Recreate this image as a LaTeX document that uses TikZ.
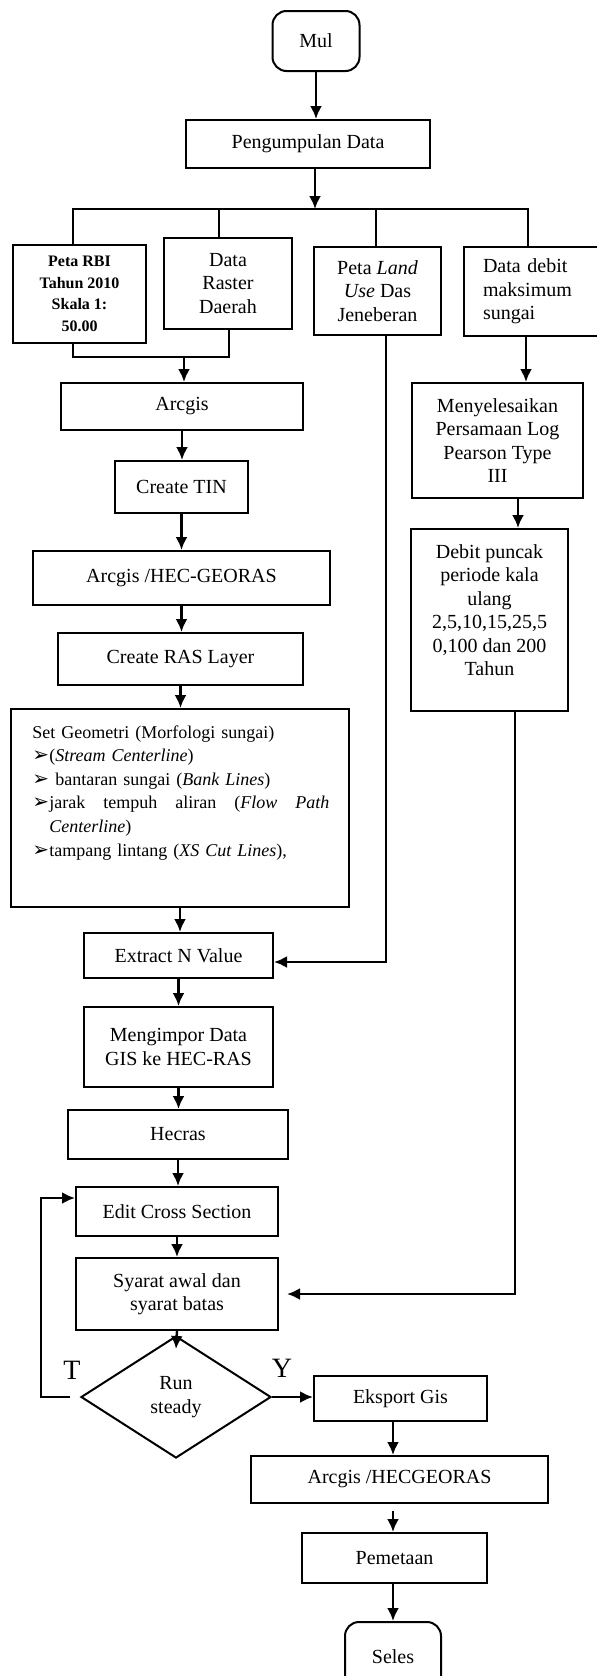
\documentclass[tikz,border=0pt]{standalone}
\usepackage{fontspec}
\setmainfont{Liberation Serif}
\newfontfamily\symfont{DejaVu Sans}
\usepackage{tikz}
\usetikzlibrary{shapes,arrows.meta}
\tikzstyle{block} = [rectangle, draw, line width=1pt, align=center, inner sep=2pt]
\tikzstyle{terminal} = [rectangle, draw, line width=1pt, align=center, rounded corners=7pt]
\tikzstyle{decision} = [diamond, draw, line width=1pt, align=center, inner sep=0pt]
\tikzstyle{line} = [draw, line width=1pt]
\tikzstyle{arrow} = [draw, line width=1.2pt, -{Latex[length=6.5pt, width=6pt]}]
\newcommand{\bul}{\makebox[8.5pt][l]{\fontsize{10}{10}\symfont ➢}}

\begin{document}
\begin{tikzpicture}[x=0.5pt, y=-0.5pt, font=\fontsize{10}{11.7}\selectfont]
\useasboundingbox (0,0) rectangle (596,1676);

%% start and data collection
\node[terminal, minimum width=43.5pt, minimum height=30pt] at (316, 41) (mul) {Mul};
\node[block, minimum width=122pt, minimum height=24pt] at (308, 144) (kumpul) {Pengumpulan Data};
\path[arrow] (mul.south) -- (mul.south |- kumpul.north);

\coordinate (bus) at (315, 209);
\path[arrow] (kumpul.south -| bus) -- (bus);

\node[block, minimum width=66.5pt, minimum height=49pt, font=\fontsize{8}{10.8}\selectfont\bfseries] at (79.5, 294) (rbi) {Peta RBI\\Tahun 2010\\Skala 1:\\50.00};
\node[block, minimum width=64pt, minimum height=45.5pt] at (228, 283.5) (raster) {Data\\Raster\\Daerah};
\node[block, minimum width=63.5pt, minimum height=44pt] at (377.5, 291) (landuse) {Peta \textit{Land}\\\textit{Use} Das\\Jeneberan};
\node[block, minimum width=73pt, minimum height=44.5pt, text width=54pt, inner xsep=9.5pt, align=left] at (537, 291.5) (debit) {Data debit\\maksimum\\sungai};

\draw[line] ([xshift=-3.25pt]rbi.north) |- ([xshift=-4.5pt]debit.north |- bus) -- ([xshift=-4.5pt]debit.north);
\draw[line] ([xshift=-4.5pt]raster.north) -- ([xshift=-4.5pt]raster.north |- bus);
\draw[line] ([xshift=-0.75pt]landuse.north) -- ([xshift=-0.75pt]landuse.north |- bus);

\coordinate (merge) at (184, 357);
\draw[line] ([xshift=-3.25pt]rbi.south) |- (merge) -| ([xshift=0.5pt]raster.south);

%% arcgis column
\node[block, minimum width=121pt, minimum height=23.5pt] at (182, 406.5) (arcgis) {Arcgis};
\node[block, minimum width=66.5pt, minimum height=26pt] at (181.5, 487) (tin) {Create TIN};
\node[block, minimum width=148.5pt, minimum height=27pt] at (181.5, 578) (georas) {Arcgis /HEC-GEORAS};
\node[block, minimum width=122.5pt, minimum height=26pt] at (180.5, 659) (raslayer) {Create RAS Layer};
\node[block, minimum width=169pt, minimum height=99pt] at (180, 808) (geometri) {};
\node[anchor=north west, inner sep=0pt, text width=148.5pt, align=left, font=\fontsize{9}{11.8}\selectfont] at (32, 725) (geotext) {Set Geometri (Morfologi sungai)\\
\bul(\textit{Stream Centerline})\\
\bul\ bantaran sungai (\textit{Bank Lines})\\
\leavevmode\hbox to 148.5pt{\bul jarak \hfill tempuh \hfill aliran \hfill (\textit{Flow} \hfill \textit{Path}}\\
\hspace*{8.5pt}\textit{Centerline})\\
\bul tampang lintang (\textit{XS Cut Lines}),};
\node[block, minimum width=94.5pt, minimum height=22.5pt] at (178.5, 955.5) (extract) {Extract N Value};
\node[block, minimum width=94.5pt, minimum height=40pt] at (178.5, 1047) (impor) {Mengimpor Data\\GIS ke HEC-RAS};
\node[block, minimum width=110pt, minimum height=24.5pt] at (178, 1134.5) (hecras) {Hecras};
\node[block, minimum width=101pt, minimum height=24.5pt] at (177, 1211.5) (edit) {Edit Cross Section};
\node[block, minimum width=101pt, minimum height=36pt] at (177, 1294) (syarat) {Syarat awal dan\\syarat batas};
\node[decision, minimum width=95pt, minimum height=61pt] at (176, 1397) (run) {Run\\steady};

\path[arrow] (merge) -- (merge |- arcgis.north);
\foreach \a/\b in {arcgis/tin, tin/georas, georas/raslayer, raslayer/geometri, geometri/extract, extract/impor, impor/hecras, hecras/edit, edit/syarat}
  \path[arrow] (\a.south) -- (\a.south |- \b.north);
\path[arrow] (syarat.south) -- ([yshift=-7pt]run.north);

%% debit column
\node[block, minimum width=85.5pt, minimum height=57.5pt] at (497.5, 440.5) (logpearson) {Menyelesaikan\\Persamaan Log\\Pearson Type\\III};
\node[block, minimum width=78.5pt, minimum height=91pt] at (489.5, 620) (puncak) {Debit puncak\\periode kala\\ulang\\2,5,10,15,25,5\\0,100 dan 200\\Tahun\rule[-10pt]{0pt}{10pt}};
\path[arrow] ([xshift=-5.5pt]debit.south) -- ([xshift=-5.5pt]debit.south |- logpearson.north);
\path[arrow] ([xshift=10.25pt]logpearson.south) -- ([xshift=10.25pt]logpearson.south |- puncak.north);
\path[arrow, shorten >=4pt] ([xshift=12.75pt]puncak.south) |- (syarat.east);
\path[arrow] ([xshift=4.25pt]landuse.south) |- ([yshift=-3.25pt]extract.east);

%% decision and output
\node[font=\fontsize{14}{14}\selectfont] at (72, 1370) (tlab) {T};
\node[font=\fontsize{14}{14}\selectfont] at (282, 1368) (ylab) {Y};
\path[arrow] ([xshift=-5pt]run.west) -- ++(-29,0) |- ([yshift=6.75pt]edit.west);

\node[block, minimum width=86.5pt, minimum height=22.5pt] at (400.5, 1398.5) (eksport) {Eksport Gis};
\node[block, minimum width=148.5pt, minimum height=23.5pt] at (399.5, 1479.5) (hecgeoras) {Arcgis /HECGEORAS};
\node[block, minimum width=92.5pt, minimum height=25pt] at (394.5, 1558) (pemetaan) {Pemetaan};
\node[terminal, minimum width=48pt, minimum height=35pt] at (393, 1657) (seles) {Seles};

\path[arrow] (run.east) -- (run.east -| eksport.west);
\path[arrow] ([xshift=-3.75pt]eksport.south) -- ([xshift=-3.75pt]eksport.south |- hecgeoras.north);
\path[arrow, shorten <=3.5pt] ([xshift=-3.25pt]hecgeoras.south) -- ([xshift=-3.25pt]hecgeoras.south |- pemetaan.north);
\path[arrow] ([xshift=-0.75pt]pemetaan.south) -- ([xshift=-0.75pt]pemetaan.south |- seles.north);

\end{tikzpicture}
\end{document}
